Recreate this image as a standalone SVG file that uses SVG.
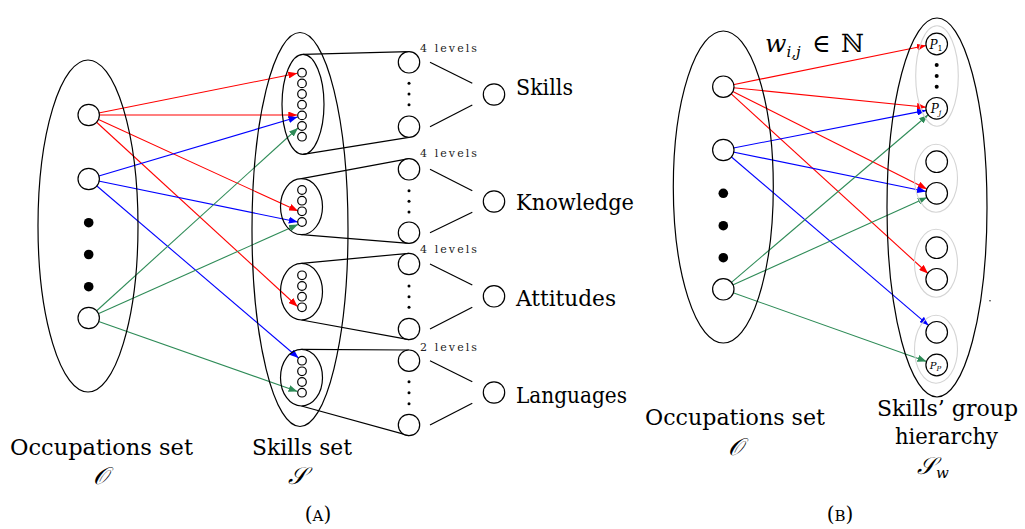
<svg xmlns="http://www.w3.org/2000/svg" width="1025" height="529" viewBox="0 0 1025 529">
<style>
.k{fill:none;stroke:#000;stroke-width:1.2}
.n{fill:#fff;stroke:#000;stroke-width:1.2}
.g{fill:none;stroke:#d4d4d4;stroke-width:1.1}
.d{fill:#000;stroke:none}
text{font-family:'DejaVu Serif',serif;fill:#000}
.L{font-size:23px}
.s{fill:#222;font-size:11px}
.m{font-style:italic}
.r{stroke:#ff0000;stroke-width:1.1;fill:none;marker-end:url(#ar)}
.b{stroke:#0000ff;stroke-width:1.1;fill:none;marker-end:url(#ab)}
.e{stroke:#2e8b57;stroke-width:1.1;fill:none;marker-end:url(#ag)}
</style>
<defs>
<marker id="ar" markerUnits="userSpaceOnUse" markerWidth="9" markerHeight="7" refX="9" refY="3.5" orient="auto"><path d="M0,0 L9,3.5 L0,7 z" fill="#ff0000"/></marker>
<marker id="ab" markerUnits="userSpaceOnUse" markerWidth="9" markerHeight="7" refX="9" refY="3.5" orient="auto"><path d="M0,0 L9,3.5 L0,7 z" fill="#0000ff"/></marker>
<marker id="ag" markerUnits="userSpaceOnUse" markerWidth="9" markerHeight="7" refX="9" refY="3.5" orient="auto"><path d="M0,0 L9,3.5 L0,7 z" fill="#2e8b57"/></marker>
</defs>
<rect width="1025" height="529" fill="#fff"/>

<g id="connectors">
<line class="r" x1="88.7" y1="115" x2="297.3" y2="73.3"/>
<line class="r" x1="88.7" y1="115" x2="297.3" y2="115"/>
<line class="r" x1="88.7" y1="115" x2="298" y2="211"/>
<line class="r" x1="88.7" y1="115" x2="297.5" y2="306.5"/>
<line class="b" x1="88.7" y1="179" x2="297.5" y2="117"/>
<line class="b" x1="88.7" y1="179" x2="297.8" y2="222"/>
<line class="b" x1="88.7" y1="179" x2="298.5" y2="358"/>
<line class="e" x1="88.7" y1="318" x2="298" y2="128"/>
<line class="e" x1="88.7" y1="318" x2="298" y2="224.5"/>
<line class="e" x1="88.7" y1="318" x2="297.5" y2="391.5"/>
<line class="k" x1="303" y1="54.3" x2="409" y2="51.6"/>
<line class="k" x1="303" y1="154.3" x2="409" y2="137.4"/>
<line class="k" x1="301.5" y1="178.7" x2="409" y2="158.6"/>
<line class="k" x1="301.5" y1="234.7" x2="409" y2="243.4"/>
<line class="k" x1="301.5" y1="263.4" x2="409" y2="253.3"/>
<line class="k" x1="301.5" y1="320" x2="409" y2="339.7"/>
<line class="k" x1="301.5" y1="349.4" x2="409" y2="350"/>
<line class="k" x1="301.5" y1="406" x2="409" y2="435.7"/>
<line class="k" x1="430" y1="62.3" x2="472.3" y2="83.3"/>
<line class="k" x1="430" y1="126.7" x2="472.3" y2="105"/>
<line class="k" x1="430" y1="169.3" x2="472.3" y2="190.7"/>
<line class="k" x1="430" y1="232.7" x2="472.3" y2="212.3"/>
<line class="k" x1="430" y1="264" x2="472.3" y2="285"/>
<line class="k" x1="430" y1="329" x2="472.3" y2="307.3"/>
<line class="k" x1="430" y1="360.7" x2="472.3" y2="381.7"/>
<line class="k" x1="430" y1="425" x2="472.3" y2="403.3"/>
<line class="r" x1="723.3" y1="86.7" x2="926" y2="45.5"/>
<line class="r" x1="723.3" y1="86.7" x2="926" y2="107.2"/>
<line class="r" x1="723.3" y1="86.7" x2="926.8" y2="189"/>
<line class="r" x1="723.3" y1="86.7" x2="928" y2="273.5"/>
<line class="b" x1="723.3" y1="150" x2="926" y2="110.4"/>
<line class="b" x1="723.3" y1="150" x2="926" y2="191.5"/>
<line class="b" x1="723.3" y1="150" x2="928.5" y2="325.3"/>
<line class="e" x1="723.3" y1="289.3" x2="928" y2="115"/>
<line class="e" x1="723.3" y1="289.3" x2="926.8" y2="197.5"/>
<line class="e" x1="723.3" y1="289.3" x2="926.5" y2="361.4"/>
</g>

<g id="occupations-a">
<ellipse class="k" cx="88" cy="226" rx="50" ry="166"/>
<circle class="n" cx="88.7" cy="115" r="10.7"/>
<circle class="n" cx="88.7" cy="179" r="10.7"/>
<circle class="d" cx="88.7" cy="222.7" r="4.8"/>
<circle class="d" cx="88.7" cy="254.5" r="4.8"/>
<circle class="d" cx="88.7" cy="286.7" r="4.8"/>
<circle class="n" cx="88.7" cy="318" r="10.7"/>
<text class="L" x="10" y="455" textLength="183" lengthAdjust="spacingAndGlyphs">Occupations set</text>
<text class="m" x="100" y="484" font-size="24" text-anchor="middle">𝒪</text>
</g>

<g id="skills-set">
<ellipse class="k" cx="300" cy="229.5" rx="48" ry="197"/>
<text class="L" x="252" y="455" textLength="100" lengthAdjust="spacingAndGlyphs">Skills set</text>
<text class="m" x="297" y="484" font-size="24" text-anchor="middle">𝒮</text>
</g>

<g id="group-skills">
<ellipse class="k" cx="303" cy="104.3" rx="21" ry="50"/>
<circle class="n" cx="302" cy="72.7" r="4.3"/>
<circle class="n" cx="302" cy="83.4" r="4.3"/>
<circle class="n" cx="302" cy="94" r="4.3"/>
<circle class="n" cx="302" cy="104.7" r="4.3"/>
<circle class="n" cx="302" cy="115.4" r="4.3"/>
<circle class="n" cx="302" cy="126" r="4.3"/>
<circle class="n" cx="302" cy="136.7" r="4.3"/>
<circle class="n" cx="409" cy="62.3" r="10.7"/>
<circle class="d" cx="409" cy="83.3" r="1.5"/>
<circle class="d" cx="409" cy="94" r="1.5"/>
<circle class="d" cx="409" cy="104.7" r="1.5"/>
<circle class="n" cx="409" cy="126.7" r="10.7"/>
<text class="s" x="420" y="51.7" textLength="57" lengthAdjust="spacing">4 levels</text>
<circle class="n" cx="494" cy="94.5" r="10.7"/>
<text class="L" x="516" y="95" textLength="57" lengthAdjust="spacingAndGlyphs">Skills</text>
</g>

<g id="group-knowledge">
<ellipse class="k" cx="301.5" cy="206.7" rx="21" ry="28"/>
<circle class="n" cx="302" cy="190" r="4.3"/>
<circle class="n" cx="302" cy="200.7" r="4.3"/>
<circle class="n" cx="302" cy="211.3" r="4.3"/>
<circle class="n" cx="302" cy="222" r="4.3"/>
<circle class="n" cx="409" cy="169.3" r="10.7"/>
<circle class="d" cx="409" cy="190.7" r="1.5"/>
<circle class="d" cx="409" cy="201.3" r="1.5"/>
<circle class="d" cx="409" cy="212" r="1.5"/>
<circle class="n" cx="409" cy="232.7" r="10.7"/>
<text class="s" x="420" y="157" textLength="57" lengthAdjust="spacing">4 levels</text>
<circle class="n" cx="494" cy="201.5" r="10.7"/>
<text class="L" x="516" y="210" textLength="118" lengthAdjust="spacingAndGlyphs">Knowledge</text>
</g>

<g id="group-attitudes">
<ellipse class="k" cx="301.5" cy="291.7" rx="21" ry="28.3"/>
<circle class="n" cx="302" cy="275.3" r="4.3"/>
<circle class="n" cx="302" cy="286" r="4.3"/>
<circle class="n" cx="302" cy="296.7" r="4.3"/>
<circle class="n" cx="302" cy="307.3" r="4.3"/>
<circle class="n" cx="409" cy="264" r="10.7"/>
<circle class="d" cx="409" cy="286" r="1.5"/>
<circle class="d" cx="409" cy="296.7" r="1.5"/>
<circle class="d" cx="409" cy="307.3" r="1.5"/>
<circle class="n" cx="409" cy="329" r="10.7"/>
<text class="s" x="420" y="253.3" textLength="57" lengthAdjust="spacing">4 levels</text>
<circle class="n" cx="494" cy="296.3" r="10.7"/>
<text class="L" x="516" y="306" textLength="100" lengthAdjust="spacingAndGlyphs">Attitudes</text>
</g>

<g id="group-languages">
<ellipse class="k" cx="301.5" cy="377.7" rx="21" ry="28.3"/>
<circle class="n" cx="302" cy="360.7" r="4.3"/>
<circle class="n" cx="302" cy="371.3" r="4.3"/>
<circle class="n" cx="302" cy="382" r="4.3"/>
<circle class="n" cx="302" cy="392.7" r="4.3"/>
<circle class="n" cx="409" cy="360.7" r="10.7"/>
<circle class="d" cx="409" cy="381.7" r="1.5"/>
<circle class="d" cx="409" cy="392.7" r="1.5"/>
<circle class="d" cx="409" cy="403.7" r="1.5"/>
<circle class="n" cx="409" cy="425" r="10.7"/>
<text class="s" x="420" y="351" textLength="57" lengthAdjust="spacing">2 levels</text>
<circle class="n" cx="494" cy="392.5" r="10.7"/>
<text class="L" x="516" y="403" textLength="111" lengthAdjust="spacingAndGlyphs">Languages</text>
</g>

<g id="caption-a">
<text x="318" y="521" font-size="20" text-anchor="middle">(<tspan font-size="15">A</tspan>)</text>
</g>

<g id="occupations-b">
<ellipse class="k" cx="723.3" cy="187" rx="50" ry="156"/>
<circle class="n" cx="723.3" cy="86.7" r="10.7"/>
<circle class="n" cx="723.3" cy="150" r="10.7"/>
<circle class="d" cx="723.3" cy="193.3" r="4.8"/>
<circle class="d" cx="723.3" cy="225.7" r="4.8"/>
<circle class="d" cx="723.3" cy="257.7" r="4.8"/>
<circle class="n" cx="723.3" cy="289.3" r="10.7"/>
<text class="L" x="645" y="425" textLength="180" lengthAdjust="spacingAndGlyphs">Occupations set</text>
<text class="m" x="735" y="455" font-size="24" text-anchor="middle">𝒪</text>
</g>

<g id="weight-label">
<text x="765" y="52" font-size="25"><tspan font-style="italic">w</tspan><tspan font-size="15" font-style="italic" dy="5">i,j</tspan><tspan x="812" dy="-5">∈</tspan><tspan x="841">ℕ</tspan></text>
</g>

<g id="skills-hierarchy">
<ellipse class="k" cx="937" cy="207.5" rx="50" ry="189.5"/>
<circle class="d" cx="990" cy="300.7" r="0.7"/>
<text class="L" x="947.5" y="416" text-anchor="middle" textLength="141" lengthAdjust="spacingAndGlyphs">Skills’ group</text>
<text class="L" x="946.5" y="444" text-anchor="middle" textLength="103" lengthAdjust="spacingAndGlyphs">hierarchy</text>
<text class="m" x="933" y="474" font-size="24" text-anchor="middle">𝒮<tspan font-size="15" dy="4">w</tspan></text>
</g>

<g id="hgroup-1">
<ellipse class="g" cx="937" cy="76" rx="21.3" ry="50.2"/>
<circle class="n" cx="936.7" cy="44" r="10.8"/>
<text x="936" y="48.5" font-size="12" text-anchor="middle"><tspan font-style="italic">P</tspan><tspan font-size="8" dy="2">1</tspan></text>
<circle class="d" cx="936.7" cy="65" r="2"/>
<circle class="d" cx="936.7" cy="76" r="2"/>
<circle class="d" cx="936.7" cy="86.7" r="2"/>
<circle class="n" cx="936.7" cy="108.3" r="10.8"/>
<text x="936" y="112.5" font-size="12" text-anchor="middle"><tspan font-style="italic">P</tspan><tspan font-size="8" font-style="italic" dy="2">j</tspan></text>
</g>

<g id="hgroup-2">
<ellipse class="g" cx="936" cy="178.3" rx="21.5" ry="34"/>
<circle class="n" cx="936.7" cy="161.7" r="10.8"/>
<circle class="n" cx="936.7" cy="193.3" r="10.8"/>
</g>

<g id="hgroup-3">
<ellipse class="g" cx="936" cy="263.3" rx="21.5" ry="34"/>
<circle class="n" cx="936.7" cy="247.7" r="10.8"/>
<circle class="n" cx="936.7" cy="279.3" r="10.8"/>
</g>

<g id="hgroup-4">
<ellipse class="g" cx="936" cy="349.2" rx="21.5" ry="34"/>
<circle class="n" cx="936.7" cy="332.3" r="10.8"/>
<circle class="n" cx="936.7" cy="365" r="10.8"/>
<text x="935.5" y="368.5" font-size="10" text-anchor="middle" fill="#333"><tspan font-style="italic">P</tspan><tspan font-size="7" font-style="italic" dy="2">P</tspan></text>
</g>

<g id="caption-b">
<text x="840" y="521" font-size="20" text-anchor="middle">(<tspan font-size="15">B</tspan>)</text>
</g>
</svg>
